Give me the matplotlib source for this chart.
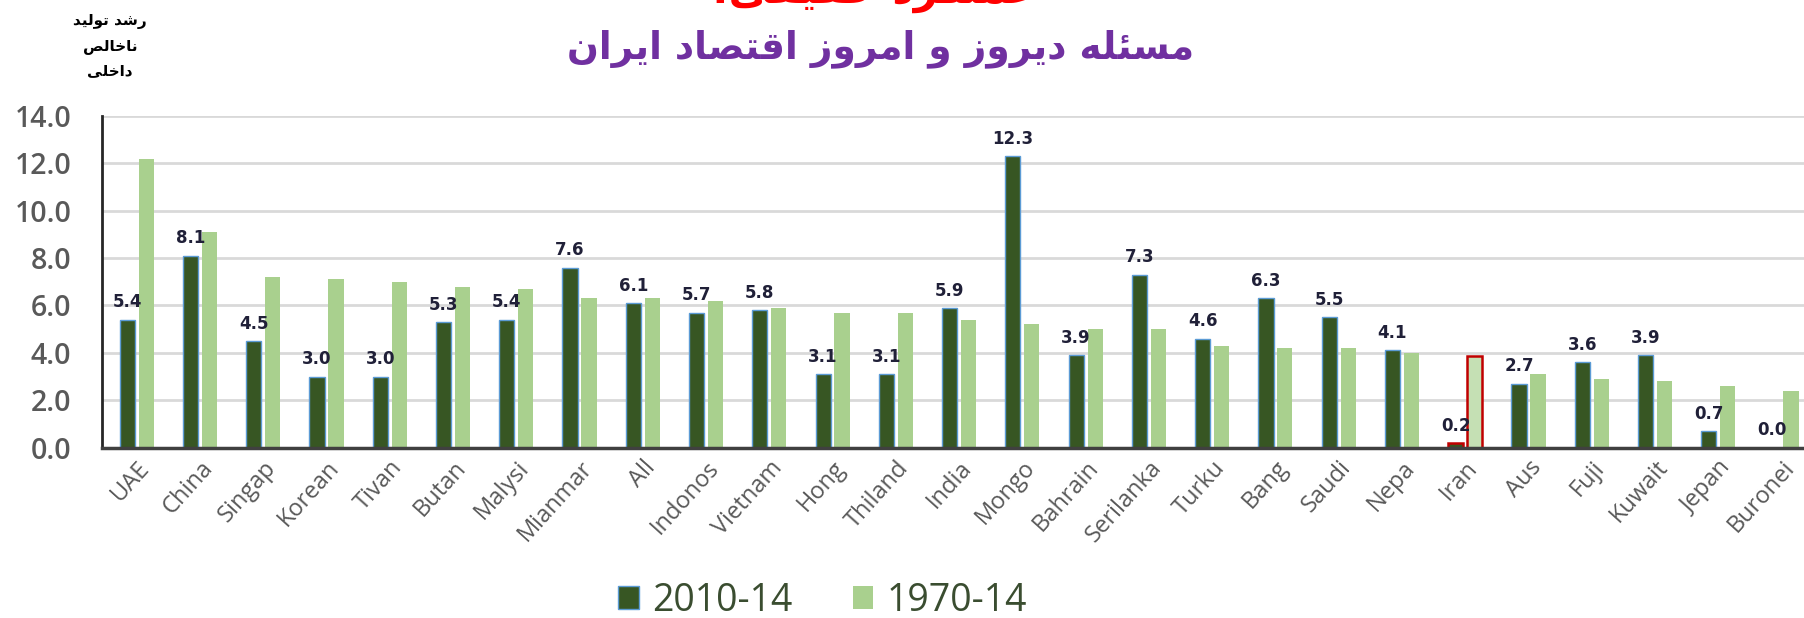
import numpy as np
import matplotlib
matplotlib.use('Agg')
import matplotlib.pyplot as plt
from matplotlib.patches import Patch

# data
countries = ['UAE', 'China', 'Singap', 'Korean', 'Tivan', 'Butan', 'Malysi', 'Mianmar',
             'All', 'Indonos', 'Vietnam', 'Hong', 'Thiland', 'India', 'Mongo', 'Bahrain',
             'Serilanka', 'Turku', 'Bang', 'Saudi', 'Nepa', 'Iran', 'Aus', 'Fuji',
             'Kuwait', 'Jepan', 'Buronei']
growth_2010_14 = [5.4, 8.1, 4.5, 3.0, 3.0, 5.3, 5.4, 7.6, 6.1, 5.7, 5.8, 3.1, 3.1, 5.9,
                  12.3, 3.9, 7.3, 4.6, 6.3, 5.5, 4.1, 0.2, 2.7, 3.6, 3.9, 0.7, 0.0]
growth_1970_14 = [12.2, 9.1, 7.2, 7.1, 7.0, 6.8, 6.7, 6.3, 6.3, 6.2, 5.9, 5.7, 5.7, 5.4,
                  5.2, 5.0, 5.0, 4.3, 4.2, 4.2, 4.0, 3.85, 3.1, 2.9, 2.8, 2.6, 2.4]
y_ticks = [0, 2, 4, 6, 8, 10, 12, 14]
series_names = ['2010-14', '1970-14']
highlight = 'Iran'

title_top = 'عملکرد حقیقی:'
title_main = 'مسئله دیروز و امروز اقتصاد ایران'
y_label = 'رشد تولید\nناخالص\nداخلی'

DARK = '#375623'
LIGHT = '#a9d08e'
LIGHT_HL = '#c5e0b4'
EDGE = '#5b9bd5'
RED = '#c00000'

# matplotlib has no arabic shaping, so pick presentation forms by hand
# (isolated, final, initial, medial)
FORMS = {
    'ا': ('\ufe8d', '\ufe8e', None, None),
    'آ': ('\ufe81', '\ufe82', None, None),
    'ب': ('\ufe8f', '\ufe90', '\ufe91', '\ufe92'),
    'پ': ('\ufb56', '\ufb57', '\ufb58', '\ufb59'),
    'ت': ('\ufe95', '\ufe96', '\ufe97', '\ufe98'),
    'ث': ('\ufe99', '\ufe9a', '\ufe9b', '\ufe9c'),
    'ج': ('\ufe9d', '\ufe9e', '\ufe9f', '\ufea0'),
    'چ': ('\ufb7a', '\ufb7b', '\ufb7c', '\ufb7d'),
    'ح': ('\ufea1', '\ufea2', '\ufea3', '\ufea4'),
    'خ': ('\ufea5', '\ufea6', '\ufea7', '\ufea8'),
    'د': ('\ufea9', '\ufeaa', None, None),
    'ذ': ('\ufeab', '\ufeac', None, None),
    'ر': ('\ufead', '\ufeae', None, None),
    'ز': ('\ufeaf', '\ufeb0', None, None),
    'ژ': ('\ufb8a', '\ufb8b', None, None),
    'س': ('\ufeb1', '\ufeb2', '\ufeb3', '\ufeb4'),
    'ش': ('\ufeb5', '\ufeb6', '\ufeb7', '\ufeb8'),
    'ص': ('\ufeb9', '\ufeba', '\ufebb', '\ufebc'),
    'ض': ('\ufebd', '\ufebe', '\ufebf', '\ufec0'),
    'ط': ('\ufec1', '\ufec2', '\ufec3', '\ufec4'),
    'ظ': ('\ufec5', '\ufec6', '\ufec7', '\ufec8'),
    'ع': ('\ufec9', '\ufeca', '\ufecb', '\ufecc'),
    'غ': ('\ufecd', '\ufece', '\ufecf', '\ufed0'),
    'ف': ('\ufed1', '\ufed2', '\ufed3', '\ufed4'),
    'ق': ('\ufed5', '\ufed6', '\ufed7', '\ufed8'),
    'ک': ('\ufb8e', '\ufb8f', '\ufb90', '\ufb91'),
    'گ': ('\ufb92', '\ufb93', '\ufb94', '\ufb95'),
    'ل': ('\ufedd', '\ufede', '\ufedf', '\ufee0'),
    'م': ('\ufee1', '\ufee2', '\ufee3', '\ufee4'),
    'ن': ('\ufee5', '\ufee6', '\ufee7', '\ufee8'),
    'ه': ('\ufee9', '\ufeea', '\ufeeb', '\ufeec'),
    'و': ('\ufeed', '\ufeee', None, None),
    'ی': ('\ufbfc', '\ufbfd', '\ufbfe', '\ufbff'),
    'ئ': ('\ufe89', '\ufe8a', '\ufe8b', '\ufe8c'),
}


def shape_line(text):
    out = []
    for i, c in enumerate(text):
        if c not in FORMS:
            out.append(c)
            continue
        iso, fin, ini, med = FORMS[c]
        prev = text[i - 1] if i > 0 else None
        nxt = text[i + 1] if i + 1 < len(text) else None
        join_prev = prev in FORMS and FORMS[prev][2] is not None
        join_next = ini is not None and nxt in FORMS
        if join_prev and join_next:
            out.append(med)
        elif join_prev:
            out.append(fin)
        elif join_next:
            out.append(ini)
        else:
            out.append(iso)
    return ''.join(reversed(out))


def fa(text):
    return '\n'.join(shape_line(line) for line in text.split('\n'))


fig = plt.figure(figsize=(18.04, 6.18), dpi=100)
ax = fig.add_axes([102 / 1804, 1 - 447.6 / 618, 1 - 102 / 1804, (447.6 - 116) / 618])

x = np.arange(len(countries))
w = 0.24
off = 0.15

dark_bars = ax.bar(x - off, growth_2010_14, w, color=DARK, edgecolor=EDGE, linewidth=1.0, zorder=3)
light_bars = ax.bar(x + off, growth_1970_14, w, color=LIGHT, linewidth=0, zorder=3)

i_hl = countries.index(highlight)
dark_bars[i_hl].set_edgecolor(RED)
dark_bars[i_hl].set_linewidth(1.8)
light_bars[i_hl].set_facecolor(LIGHT_HL)
light_bars[i_hl].set_edgecolor(RED)
light_bars[i_hl].set_linewidth(1.8)

for xi, v in zip(x, growth_2010_14):
    ax.annotate(f'{v:.1f}', (xi - off, v), xytext=(0, 6), textcoords='offset points',
                ha='center', va='bottom', fontsize=12, fontweight='bold',
                color='#202038', family='DejaVu Sans', zorder=4)

ax.set_xlim(-0.549, 26.356)
ax.set_ylim(0, 14)
ax.set_yticks(y_ticks)
ax.set_yticklabels([f'{t:.1f}' for t in y_ticks], fontsize=20.5, color='#595959',
                   family='Open Sans', fontweight='semibold')
ax.set_xticks(x)
ax.set_xticklabels(countries, rotation=48, ha='right', rotation_mode='anchor',
                   fontsize=17, color='#595959', family='Open Sans')
ax.tick_params(axis='both', length=0)
ax.tick_params(axis='x', pad=6)
ax.tick_params(axis='y', pad=22)

ax.grid(axis='y', color='#d9d9d9', linewidth=2, zorder=0)
for s in ['top', 'right']:
    ax.spines[s].set_visible(False)
ax.spines['left'].set_color('#262626')
ax.spines['left'].set_linewidth(2)
ax.spines['bottom'].set_color('#404040')
ax.spines['bottom'].set_linewidth(2.5)
ax.spines['bottom'].set_zorder(5)

handles = [Patch(facecolor=DARK, edgecolor=EDGE, linewidth=1),
           Patch(facecolor=LIGHT, edgecolor=LIGHT, linewidth=0)]
leg = fig.legend(handles, series_names, loc='center', bbox_to_anchor=(0.456, 0.028),
                 ncol=2, frameon=False, prop={'family': 'Open Sans', 'size': 27},
                 handlelength=0.55, handleheight=0.55, handletextpad=0.35, columnspacing=1.6)
for t in leg.get_texts():
    t.set_color('#3a4d30')

fig.text(875 / 1804, 1 - 3 / 618, fa(title_top), ha='center', va='baseline', color='#ff0000',
         fontsize=30, fontweight='bold', family='DejaVu Sans')
fig.text(881 / 1804, 1 - 58 / 618, fa(title_main), ha='center', va='baseline', color='#7030a0',
         fontsize=27, fontweight='bold', family='DejaVu Sans')
fig.text(110 / 1804, 1 - 46 / 618, fa(y_label), ha='center', va='center', color='#000000',
         fontsize=11, fontweight='bold', family='DejaVu Sans', linespacing=1.75)

fig.savefig('out.png', dpi=100)
